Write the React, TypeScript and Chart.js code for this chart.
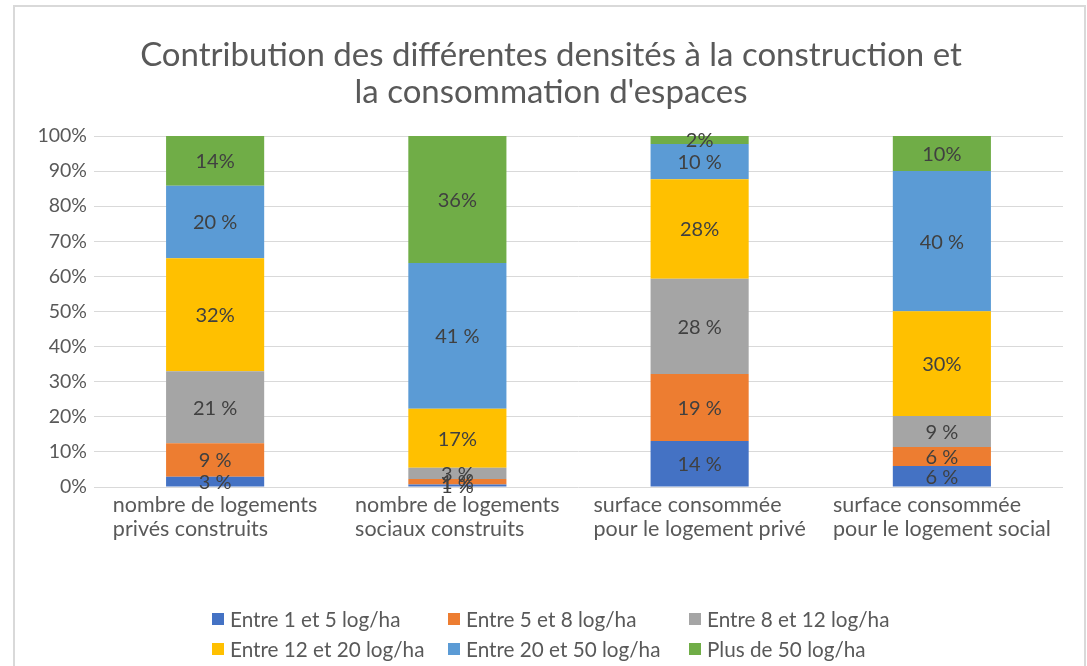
import React, { useEffect, useRef } from "react";
import { Chart, registerables } from "chart.js";

Chart.register(...registerables);

const titleLines = ["Contribution des différentes densités à la construction et", "la consommation d'espaces"];

const categories: string[][] = [
  ["nombre de logements", "privés construits"],
  ["nombre de logements", "sociaux construits"],
  ["surface consommée", "pour le logement privé"],
  ["surface consommée", "pour le logement social"],
];

const seriesNames = [
  "Entre 1 et 5 log/ha",
  "Entre 5 et 8 log/ha",
  "Entre 8 et 12 log/ha",
  "Entre 12 et 20 log/ha",
  "Entre 20 et 50 log/ha",
  "Plus de 50 log/ha",
];

const seriesColors = ["#4472C4", "#ED7D31", "#A5A5A5", "#FFC000", "#5B9BD5", "#70AD47"];

// segment heights (percent of each bar)
const entre1et5 = [2.9, 0.7, 13.1, 6.0];
const entre5et8 = [9.6, 1.6, 19.1, 5.4];
const entre8et12 = [20.5, 3.2, 27.1, 8.8];
const entre12et20 = [32.2, 16.8, 28.4, 29.9];
const entre20et50 = [20.6, 41.5, 10.0, 39.9];
const plusDe50 = [14.2, 36.2, 2.3, 10.0];

// printed data labels
const labels1et5 = ["3 %", "1 %", "14 %", "6 %"];
const labels5et8 = ["9 %", "1 %", "19 %", "6 %"];
const labels8et12 = ["21 %", "3 %", "28 %", "9 %"];
const labels12et20 = ["32%", "17%", "28%", "30%"];
const labels20et50 = ["20 %", "41 %", "10 %", "40 %"];
const labelsPlus50 = ["14%", "36%", "2%", "10%"];

const yTickSuffix = "%";

const FONT = "Lato, 'Open Sans', sans-serif";

export default function App() {
  const ref = useRef<HTMLCanvasElement | null>(null);

  useEffect(() => {
    if (!ref.current) return;
    const values = [entre1et5, entre5et8, entre8et12, entre12et20, entre20et50, plusDe50];
    const labelSets = [labels1et5, labels5et8, labels8et12, labels12et20, labels20et50, labelsPlus50];

    const overlay = {
      id: "overlay",
      afterDatasetsDraw(chart: any) {
        const ctx = chart.ctx;
        ctx.save();
        ctx.fillStyle = "#404040";
        ctx.font = `20px ${FONT}`;
        ctx.textAlign = "center";
        ctx.textBaseline = "middle";
        chart.data.datasets.forEach((ds: any, di: number) => {
          const meta = chart.getDatasetMeta(di);
          meta.data.forEach((el: any, i: number) => {
            const y = (el.y + el.base) / 2;
            ctx.fillText(labelSets[di][i], el.x, y + 1);
          });
        });
        ctx.restore();
      },
      afterDraw(chart: any) {
        const ctx = chart.ctx;
        const area = chart.chartArea;
        ctx.save();
        // title
        ctx.fillStyle = "#595959";
        ctx.font = `33px ${FONT}`;
        ctx.textAlign = "center";
        ctx.textBaseline = "middle";
        ctx.fillText(titleLines[0], 551, 55);
        ctx.fillText(titleLines[1], 551, 92);
        // category labels
        ctx.font = `21.5px ${FONT}`;
        ctx.textAlign = "left";
        const xs = chart.scales.x;
        categories.forEach((lines, i) => {
          const cx = xs.getPixelForValue(i);
          const w = Math.max(...lines.map((l) => ctx.measureText(l).width));
          const sx = cx - w / 2;
          lines.forEach((l, j) => {
            ctx.fillText(l, sx, area.bottom + 18 + j * 24);
          });
        });
        // legend
        ctx.font = `20.7px ${FONT}`;
        const colX = [212, 448, 689];
        const rowY = [619, 649];
        seriesNames.forEach((name, i) => {
          const c = i % 3;
          const r = Math.floor(i / 3);
          ctx.fillStyle = seriesColors[i];
          ctx.fillRect(colX[c], rowY[r] - 6, 12, 12);
          ctx.fillStyle = "#595959";
          ctx.fillText(name, colX[c] + 18, rowY[r] + 1);
        });
        ctx.restore();
      },
    };

    const chart = new Chart(ref.current, {
      type: "bar",
      data: {
        labels: categories.map((c) => c.join(" ")),
        datasets: seriesNames.map((name, i) => ({
          label: name,
          data: values[i],
          backgroundColor: seriesColors[i],
          borderWidth: 0,
          categoryPercentage: 1,
          barPercentage: 0.405,
        })),
      },
      options: {
        animation: false,
        responsive: false,
        maintainAspectRatio: false,
        layout: { padding: { top: 136, right: 24, left: 0, bottom: 0 } },
        plugins: {
          legend: { display: false },
          title: { display: false },
          tooltip: { enabled: false },
        },
        scales: {
          x: {
            stacked: true,
            grid: { display: false },
            border: { display: false },
            ticks: { display: false },
            afterFit(scale: any) {
              scale.height = 179;
            },
          },
          y: {
            stacked: true,
            min: 0,
            max: 100,
            grid: { color: "#d9d9d9", lineWidth: 1, drawTicks: false },
            border: { display: false },
            ticks: {
              stepSize: 10,
              padding: 7,
              color: "#595959",
              font: { family: FONT, size: 19.5 },
              callback: (v: any) => v + yTickSuffix,
            },
            afterFit(scale: any) {
              scale.width = 94;
            },
          },
        },
      },
      plugins: [overlay],
    });
    return () => chart.destroy();
  }, []);

  return (
    <div style={{ position: "fixed", left: 0, top: 0, width: 1087, height: 666, overflow: "hidden", background: "#fff" }}>
      <canvas ref={ref} width={1087} height={666} style={{ position: "absolute", left: 0, top: 0 }} />
      <div
        style={{
          position: "absolute",
          left: 13,
          top: 5,
          width: 1073,
          height: 720,
          border: "2px solid #d9d9d9",
          boxSizing: "border-box",
          pointerEvents: "none",
        }}
      />
    </div>
  );
}
